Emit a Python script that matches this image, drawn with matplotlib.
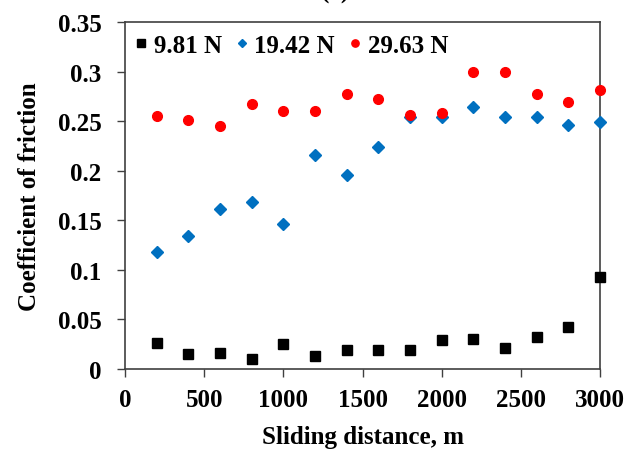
import matplotlib
matplotlib.use("Agg")
import matplotlib.pyplot as plt

distance = [200, 400, 600, 800, 1000, 1200, 1400, 1600, 1800, 2000, 2200, 2400, 2600, 2800, 3000]
cof_981 = [0.026, 0.015, 0.016, 0.010, 0.025, 0.013, 0.019, 0.019, 0.019, 0.029, 0.030, 0.021, 0.032, 0.042, 0.093]
cof_1942 = [0.118, 0.134, 0.161, 0.168, 0.146, 0.216, 0.196, 0.224, 0.254, 0.254, 0.264, 0.254, 0.254, 0.246, 0.249]
cof_2963 = [0.255, 0.251, 0.245, 0.267, 0.260, 0.260, 0.277, 0.272, 0.256, 0.258, 0.300, 0.300, 0.277, 0.269, 0.281]
labels = ["9.81 N", "19.42 N", "29.63 N"]
x_ticks = [0, 500, 1000, 1500, 2000, 2500, 3000]
y_ticks = [0, 0.05, 0.1, 0.15, 0.2, 0.25, 0.3, 0.35]
y_ticklabels = ["0", "0.05", "0.1", "0.15", "0.2", "0.25", "0.3", "0.35"]

plt.rcParams['font.family'] = ['Liberation Serif', 'DejaVu Serif']
plt.rcParams['font.weight'] = 'bold'

fig = plt.figure(figsize=(6.27, 4.56), dpi=100)
ax = fig.add_axes([125/627, 1 - 370/456, 475/627, 347/456])

ax.plot(distance, cof_981, linestyle='none', marker='s', markersize=7.5, color='black',
        label=labels[0], clip_on=False, zorder=3)
ax.plot(distance, cof_1942, linestyle='none', marker='D', markersize=6, color='#0070C0',
        label=labels[1], clip_on=False, zorder=3)
ax.plot(distance, cof_2963, linestyle='none', marker='o', markersize=7, color='#FF0000',
        label=labels[2], clip_on=False, zorder=3)

ax.set_xlim(0, 3000)
ax.set_ylim(0, 0.35)
ax.set_xticks(x_ticks)
ax.set_yticks(y_ticks)
ax.set_yticklabels(y_ticklabels)
ax.tick_params(axis='both', labelsize=18, direction='out', length=6, width=1,
               colors='#404040', labelcolor='black')
ax.tick_params(axis='y', pad=11)
ax.tick_params(axis='x', pad=8)
for lab in ax.get_xticklabels() + ax.get_yticklabels():
    lab.set_fontweight('bold')
for s in ax.spines.values():
    s.set_color('#404040')
    s.set_linewidth(1.2)

ax.set_xlabel('Sliding distance, m', fontsize=18, fontweight='bold', labelpad=10)
ax.set_ylabel('Coefficient of friction', fontsize=18, fontweight='bold', labelpad=12)

leg = ax.legend(loc='upper left', ncol=3, frameon=False,
                handletextpad=0.2, columnspacing=0.5, handlelength=0.6,
                borderaxespad=0.0, borderpad=0.35, markerscale=0.75,
                bbox_to_anchor=(0.0, 0.99),
                prop={'weight': 'bold', 'size': 18})

fig.text(336/627, 1 + 1/456, '(a)', fontsize=18, fontweight='bold', ha='center', va='baseline')

fig.savefig('out.png', dpi=100)
